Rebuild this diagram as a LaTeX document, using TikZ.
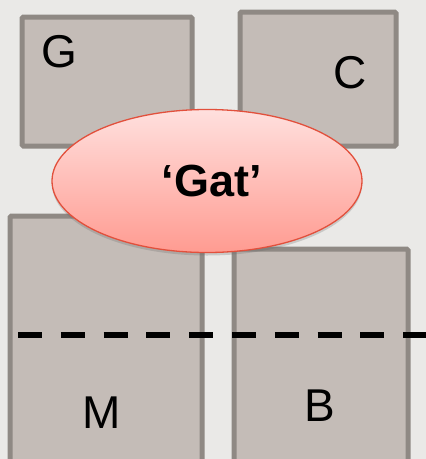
\documentclass[tikz,border=0pt]{standalone}
\usepackage{fontspec}
\setmainfont{Liberation Sans}
\usetikzlibrary{shapes.geometric,shadows}
\definecolor{bg}{RGB}{234,233,231}
\definecolor{boxfill}{RGB}{196,188,183}
\definecolor{boxline}{RGB}{143,137,132}
\definecolor{elltop}{RGB}{255,224,222}
\definecolor{ellbot}{RGB}{255,155,145}
\definecolor{ellline}{RGB}{226,80,60}
\tikzset{
  panel/.style={draw=boxline, fill=boxfill, line width=5pt, rounded corners=1.5pt},
  lbl/.style={font=\fontsize{46}{50}\selectfont, text=black, inner sep=0pt},
}
\begin{document}
\begin{tikzpicture}[x=1pt,y=-1pt]
\fill[bg] (0,0) rectangle (426,459);
\useasboundingbox (0,0) rectangle (426,459);
% top boxes
\draw[panel] (22,17) rectangle (192,146);
\draw[panel] (240,12) rectangle (396,146);
% bottom boxes
\draw[panel] (10,216) rectangle (202,470);
\draw[panel] (234,249) rectangle (408,470);
% dashed line
\coordinate (dl) at (18,335);
\coordinate (dr) at (440,335);
\draw[black, line width=5.5pt, dash pattern=on 24pt off 18.8pt] (dl) -- (dr);
% labels
\node[lbl] (G) at (59,52) {G};
\node[lbl] (C) at (350,73) {C};
\node[lbl] (M) at (102,413) {M};
\node[lbl] (B) at (320,406) {B};
% ellipse
\node[ellipse, minimum width=310pt, minimum height=143pt, draw=ellline, line width=1.3pt,
  top color=elltop, bottom color=ellbot,
  drop shadow={shadow xshift=0pt, shadow yshift=-3pt, opacity=0.25, fill=black!60},
  inner sep=0pt] (gat) at (207,181) {};
\node[font=\bfseries\fontsize{45}{48}\selectfont, inner sep=0pt] (gatlbl) at (212,181) {‘Gat’};
\end{tikzpicture}
\end{document}
